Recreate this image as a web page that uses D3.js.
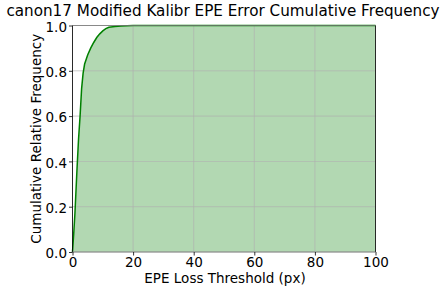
<!DOCTYPE html>
<html><head><meta charset="utf-8">
<script src="https://cdn.jsdelivr.net/npm/d3@7"></script>
<style>body{margin:0;background:#fff}svg{display:block}text{font-family:"DejaVu Sans",sans-serif;fill:#000}</style>
</head><body><svg id="c" width="448" height="293"></svg>
<script>
const thresholds = [0, 0.4, 0.8, 1.5, 2, 2.5, 3, 3.5, 4, 5, 6, 7, 8, 9, 10, 11, 12, 14, 16, 18, 20, 100];
const cumFreq    = [0, 0.08, 0.17, 0.37, 0.5, 0.6, 0.72, 0.79, 0.83, 0.87, 0.9, 0.925, 0.947, 0.963, 0.976, 0.986, 0.992, 0.996, 0.998, 0.999, 1.0, 1.0];
const xTicks = [0, 20, 40, 60, 80, 100];
const yTicks = [0, 0.2, 0.4, 0.6, 0.8, 1.0];
const title = "canon17 Modified Kalibr EPE Error Cumulative Frequency";
const xLabel = "EPE Loss Threshold (px)";
const yLabel = "Cumulative Relative Frequency";

const svg = d3.select("#c");
const L = 72.5, R = 375.5, T = 25.5, B = 252;
const x = d3.scaleLinear().domain([0, 100]).range([L, R]);
const y = d3.scaleLinear().domain([0, 1]).range([B, T]);
const data = thresholds.map((t, i) => ({t, v: cumFreq[i]}));

svg.append("path").datum(data)
  .attr("d", d3.area().x(d => x(d.t)).y0(y(0)).y1(d => y(d.v)))
  .attr("fill", "rgb(178,216,178)").attr("stroke", "none");

// grid
const g = svg.append("g");
xTicks.forEach(t => g.append("line").attr("x1", x(t)).attr("x2", x(t)).attr("y1", T).attr("y2", B)
  .attr("stroke", "#b0b0b0").attr("stroke-width", 0.8).attr("opacity", 0.8));
yTicks.forEach(t => g.append("line").attr("y1", y(t)).attr("y2", y(t)).attr("x1", L).attr("x2", R)
  .attr("stroke", "#b0b0b0").attr("stroke-width", 0.8).attr("opacity", 0.8));

svg.append("path").datum(data)
  .attr("d", d3.line().x(d => x(d.t)).y(d => y(d.v)))
  .attr("fill", "none").attr("stroke", "green").attr("stroke-width", 1.5);

// spines
svg.append("line").attr("x1", L).attr("x2", L).attr("y1", T).attr("y2", B).attr("stroke", "#000").attr("stroke-width", 0.8);
svg.append("line").attr("x1", R).attr("x2", R).attr("y1", T).attr("y2", B).attr("stroke", "#000").attr("stroke-width", 0.8);
svg.append("line").attr("x1", L).attr("x2", R).attr("y1", T).attr("y2", T).attr("stroke", "#777").attr("stroke-width", 0.8);
svg.append("line").attr("x1", L).attr("x2", R).attr("y1", B).attr("y2", B).attr("stroke", "#777").attr("stroke-width", 0.8);

// axes
const xa = svg.append("g").attr("transform", `translate(0,${B})`)
  .call(d3.axisBottom(x).tickValues(xTicks).tickFormat(d3.format("d")).tickSize(3.5).tickPadding(2));
const ya = svg.append("g").attr("transform", `translate(${L},0)`)
  .call(d3.axisLeft(y).tickValues(yTicks).tickFormat(d3.format(".1f")).tickSize(3.5).tickPadding(2));
[xa, ya].forEach(a => {
  a.select(".domain").remove();
  a.selectAll("line").attr("stroke", "#000").attr("stroke-width", 0.8);
  a.selectAll("text").style("font-family", '"DejaVu Sans",sans-serif').style("font-size", "13.5px");
});
ya.selectAll("text").attr("dy", "0.42em");

svg.append("text").attr("x", (L + R) / 2 + 1).attr("y", 283).attr("text-anchor", "middle")
  .style("font-size", "13.5px").text(xLabel);
svg.append("text").attr("transform", `translate(41,${(T + B) / 2}) rotate(-90)`).attr("text-anchor", "middle")
  .style("font-size", "13.5px").text(yLabel);
svg.append("text").attr("x", 223).attr("y", 16).attr("text-anchor", "middle")
  .style("font-size", "15.2px").text(title);
</script></body></html>
